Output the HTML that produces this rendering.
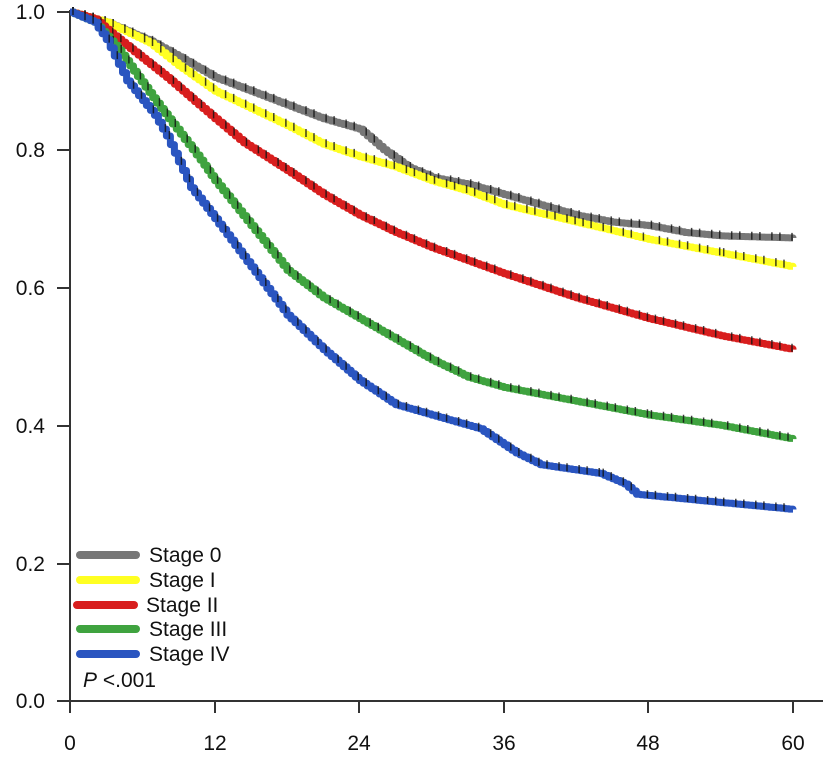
<!DOCTYPE html>
<html><head><meta charset="utf-8"><style>
body{margin:0;background:#fff;width:823px;height:768px;overflow:hidden}
text{font-family:"Liberation Sans",Arial,sans-serif;fill:#111}
</style></head><body>
<svg id="s" width="823" height="768" xmlns="http://www.w3.org/2000/svg">
<g stroke="#333" stroke-width="2" fill="none">
<line x1="70" y1="10" x2="70" y2="713"/>
<line x1="57" y1="701" x2="823" y2="701"/>
<line x1="57" y1="12" x2="70" y2="12"/>
<line x1="57" y1="150" x2="70" y2="150"/>
<line x1="57" y1="288" x2="70" y2="288"/>
<line x1="57" y1="426" x2="70" y2="426"/>
<line x1="57" y1="564" x2="70" y2="564"/>
<line x1="215" y1="701" x2="215" y2="713"/>
<line x1="359" y1="701" x2="359" y2="713"/>
<line x1="504" y1="701" x2="504" y2="713"/>
<line x1="648" y1="701" x2="648" y2="713"/>
<line x1="793" y1="701" x2="793" y2="713"/>
</g>
<g font-size="21" text-anchor="end">
<text x="45" y="19">1.0</text><text x="45" y="157">0.8</text><text x="45" y="295">0.6</text>
<text x="45" y="433">0.4</text><text x="45" y="571">0.2</text><text x="45" y="708">0.0</text>
</g>
<g font-size="21" text-anchor="middle">
<text x="70" y="750">0</text><text x="215" y="750">12</text><text x="359" y="750">24</text>
<text x="504" y="750">36</text><text x="648" y="750">48</text><text x="793" y="750">60</text>
</g>
<g id="curves"></g>
<g stroke-width="8" stroke-linecap="round">
<line x1="80" y1="555" x2="136" y2="555" stroke="#777"/>
<line x1="80" y1="580" x2="136" y2="580" stroke="#ffff22"/>
<line x1="77" y1="605" x2="134" y2="605" stroke="#d81e1e"/>
<line x1="80" y1="629" x2="136" y2="629" stroke="#3fa33f"/>
<line x1="80" y1="654" x2="136" y2="654" stroke="#2a55c0"/>
</g>
<g font-size="21">
<text x="149" y="562">Stage 0</text><text x="149" y="587">Stage I</text>
<text x="146" y="612">Stage II</text><text x="149" y="636">Stage III</text>
<text x="149" y="661">Stage IV</text>
<text x="83" y="687"><tspan font-style="italic">P</tspan> &lt;.001</text>
</g>
</svg>
<script>
var X=m=>70+m*12.05, Y=s=>701-s*689;
var data=[
["#777",[[0,1],[3,.985],[6.6,.958],[9,.935],[12,.905],[15,.885],[18,.865],[21,.845],[24,.83],[26,.8],[28,.775],[30,.76],[33,.75],[36,.735],[39,.72],[42,.705],[45,.695],[48,.69],[51,.68],[54,.675],[60,.672]]],
["#ffff22",[[0,1],[3,.985],[6.6,.955],[9,.922],[12,.885],[15,.86],[18,.835],[21,.808],[24,.79],[27,.775],[30,.755],[33,.74],[36,.72],[42,.695],[48,.67],[54,.65],[60,.63]]],
["#d81e1e",[[0,1],[2,.99],[3.3,.97],[8,.905],[12,.845],[14.4,.81],[18,.77],[21,.735],[24,.705],[27,.68],[30,.658],[36,.62],[42,.585],[48,.555],[54,.53],[60,.51]]],
["#3fa33f",[[0,1],[2,.985],[4,.945],[7.5,.86],[10.8,.785],[12,.755],[15,.69],[18,.625],[21,.585],[24,.555],[27,.525],[30,.495],[33,.47],[36,.455],[42,.435],[48,.415],[54,.4],[60,.38]]],
["#2a55c0",[[0,1],[2,.985],[3,.96],[4.7,.9],[7,.85],[8,.82],[10,.745],[12,.7],[15,.63],[18,.56],[21,.51],[24,.465],[27,.43],[30,.415],[34,.395],[37,.36],[39,.343],[44,.33],[46,.315],[47,.3],[54,.288],[60,.278]]]];
var g=document.getElementById('curves'),h='';
data.forEach(function(d){
 var p=d[1],pts='',ticks='';
 for(var i=0;i<p.length-1;i++){
  var a=p[i],b=p[i+1],n=Math.max(2,Math.round((b[0]-a[0])*3));
  for(var k=0;k<n;k++){var m=a[0]+(b[0]-a[0])*k/n,s=a[1]+(b[1]-a[1])*k/n,m2=a[0]+(b[0]-a[0])*(k+1)/n;
   pts+=X(m).toFixed(1)+','+Y(s).toFixed(1)+' '+X(m2).toFixed(1)+','+Y(s).toFixed(1)+' ';
   if((k*7+i*3)%5<2) ticks+='M'+(X(m)+3).toFixed(1)+','+(Y(s)-5).toFixed(1)+'v8';}
 }
 var l=p[p.length-1];pts+=X(l[0])+','+Y(l[1]);
 h+='<polyline fill="none" stroke="'+d[0]+'" stroke-width="7" stroke-linejoin="round" points="'+pts+'"/>';
 h+='<path d="'+ticks+'" stroke="#111" stroke-width="1.5" opacity="0.8"/>';
});
g.innerHTML=h;
</script>
</body></html>
